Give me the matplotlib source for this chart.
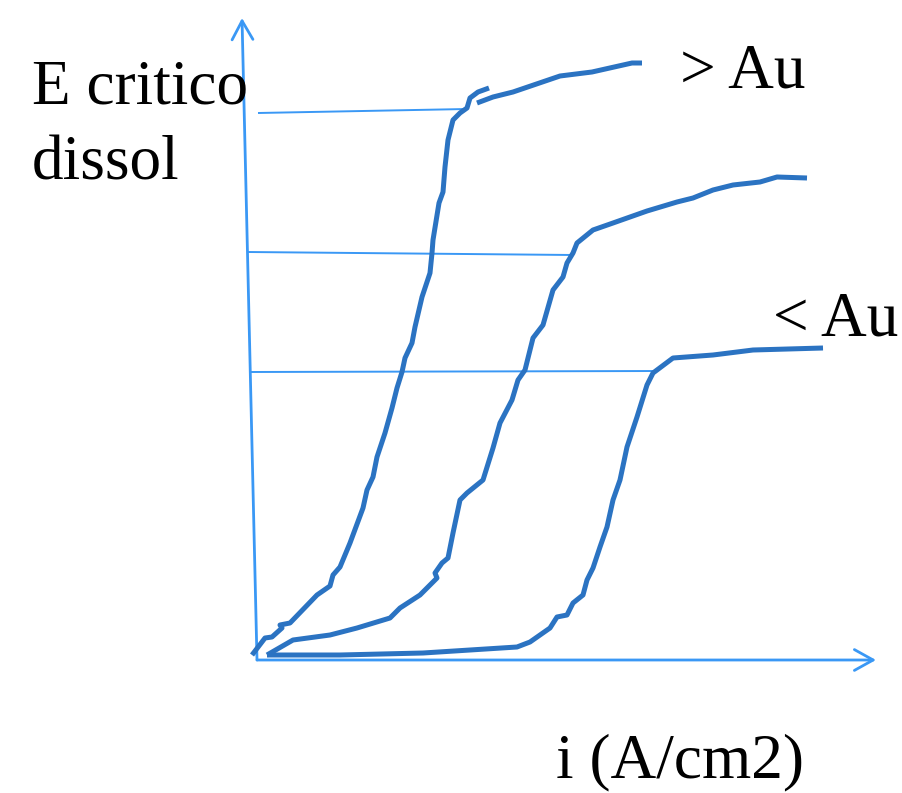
import matplotlib.pyplot as plt
from matplotlib.patches import FancyArrowPatch

# polarisation sketch: E vs i for three alloys, origin at the axis corner
# curve 1 (> Au), drawn in two strokes with a small break near the top
c1a_x = [-5, 8, 15, 25, 23, 33, 60, 73, 76, 83, 93, 106, 110, 116, 120, 128, 135, 140,
         145, 148, 155, 158, 165, 173, 175, 176, 182, 186, 188, 191, 196, 203, 210, 213,
         221, 232]
c1a_y = [5, 22, 23, 32, 35, 37, 65, 74, 85, 93, 117, 152, 170, 183, 203, 227, 252, 272,
         288, 302, 317, 333, 363, 387, 407, 420, 457, 468, 493, 520, 540, 547, 552, 562,
         568, 572]
c1b_x = [220, 236, 256, 303, 335, 375, 385]
c1b_y = [557, 563, 568, 584, 588, 597, 597]

# curve 2 (middle)
c2_x = [10, 36, 73, 100, 133, 143, 163, 180, 178, 185, 191, 196, 203, 210, 226, 236, 243,
        255, 261, 268, 276, 286, 296, 306, 310, 316, 320, 336, 356, 390, 420, 436, 456,
        476, 503, 520, 550]
c2_y = [5, 20, 25, 32, 42, 52, 65, 82, 87, 97, 102, 127, 160, 167, 180, 212, 237, 260,
        280, 290, 322, 335, 370, 383, 397, 407, 417, 430, 437, 449, 458, 462, 470, 475,
        478, 483, 482]

# curve 3 (< Au)
c3_x = [10, 83, 166, 260, 273, 293, 300, 310, 316, 326, 330, 336, 343, 350, 356, 363, 370,
        380, 390, 396, 416, 456, 496, 566]
c3_y = [5, 5, 7, 13, 18, 32, 43, 45, 57, 65, 80, 92, 113, 133, 160, 180, 213, 243, 275,
        287, 302, 305, 310, 312]

# critical dissolution potentials, read across to the E axis
crit_x = [(1, 210), (-9, 316), (-7, 401)]
crit_y = [(547, 551), (408, 405), (288, 289)]

curve_col = "#2b73c2"
axis_col = "#3a98f5"

fig = plt.figure(figsize=(9.03, 7.93), dpi=100)
ax = fig.add_axes([0, 0, 1, 1])
ax.set_xlim(-257, 646)
ax.set_ylim(-133, 660)
ax.axis("off")

for xs, ys in zip(crit_x, crit_y):
    ax.plot(xs, ys, color=axis_col, lw=1.4, solid_capstyle="butt")

for xs, ys in [(c1a_x, c1a_y), (c1b_x, c1b_y), (c2_x, c2_y), (c3_x, c3_y)]:
    ax.plot(xs, ys, color=curve_col, lw=3.6, solid_joinstyle="round",
            solid_capstyle="butt")

# axes drawn as open-headed arrows
for start, end in [((0, 0), (619, 0)), ((0, 0), (-15, 642))]:
    arr = FancyArrowPatch(start, end, arrowstyle="->,head_length=0.45,head_width=0.25",
                          mutation_scale=30, color=axis_col, lw=2.0,
                          shrinkA=0, shrinkB=0)
    ax.add_patch(arr)

font = dict(family="Liberation Serif", fontsize=45.5, color="black", va="baseline")
ax.text(-225, 557, "E critico", **font)
ax.text(-225, 480, "dissol", **font)
ax.text(423, 572, "> Au", **font)
ax.text(516, 325, "< Au", **font)
ax.text(299, -117, "i (A/cm2)", **font)

fig.savefig("out.png", dpi=100)
